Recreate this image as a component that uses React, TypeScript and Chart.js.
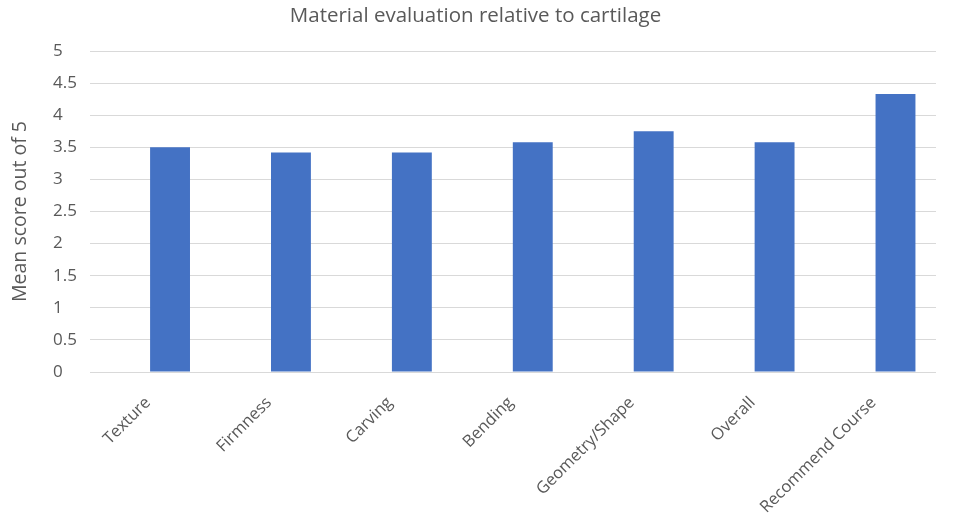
import React, { useEffect, useRef } from "react";
import { Chart, registerables } from "chart.js";

Chart.register(...registerables);

const categories = ["Texture", "Firmness", "Carving", "Bending", "Geometry/Shape", "Overall", "Recommend Course"];
const meanScores = [3.5, 3.42, 3.42, 3.58, 3.75, 3.58, 4.33];
const chartTitle = "Material evaluation relative to cartilage";
const yAxisTitle = "Mean score out of 5";

const FONT = "'Open Sans', 'Noto Sans', sans-serif";
const TEXT = "#595959";

const textPlugin = {
  id: "textPlugin",
  afterDraw(chart: any) {
    const { ctx, chartArea, width } = chart;
    ctx.save();
    ctx.fillStyle = TEXT;
    ctx.textAlign = "center";
    ctx.textBaseline = "middle";
    ctx.font = `20.5px ${FONT}`;
    ctx.fillText(chartTitle, width / 2 - 3, 16);
    ctx.font = `19.5px ${FONT}`;
    ctx.translate(20, (chartArea.top + chartArea.bottom) / 2);
    ctx.rotate(-Math.PI / 2);
    ctx.fillText(yAxisTitle, 0, 0);
    ctx.restore();
  },
};

export default function App() {
  const ref = useRef<HTMLCanvasElement | null>(null);
  useEffect(() => {
    document.body.style.margin = "0";
    const canvas = ref.current;
    if (!canvas) return;
    const chart = new Chart(canvas, {
      type: "bar",
      data: {
        datasets: [
          {
            label: "Mean score",
            data: meanScores.map((v, i) => ({ x: i, y: v })),
            backgroundColor: "#4472C4",
            categoryPercentage: 1,
            barPercentage: 0.33,
          },
        ],
      },
      options: {
        animation: false,
        responsive: false,
        maintainAspectRatio: false,
        layout: { padding: { left: 53, right: 21, top: 51, bottom: 0 } },
        plugins: {
          legend: { display: false },
          tooltip: { enabled: false },
          title: { display: false },
        },
        scales: {
          x: {
            type: "linear",
            offset: false,
            min: -0.662,
            max: 6.335,
            grid: { display: false },
            border: { display: false },
            afterBuildTicks: (scale: any) => {
              scale.ticks = categories.map((_, i) => ({ value: i }));
            },
            ticks: {
              color: TEXT,
              font: { family: FONT, size: 16.5 },
              minRotation: 45,
              maxRotation: 45,
              autoSkip: false,
              padding: 13,
              labelOffset: -22,
              callback: (v: any) => categories[Math.round(Number(v))] ?? "",
            },
            afterFit: (scale: any) => {
              scale.height = 156;
            },
          },
          y: {
            min: 0,
            max: 5,
            border: { display: false },
            grid: { color: "#d9d9d9", lineWidth: 1, drawTicks: false },
            ticks: {
              stepSize: 0.5,
              color: TEXT,
              font: { family: FONT, size: 17 },
              crossAlign: "far",
              padding: 0,
              callback: (v: any) => String(v),
            },
            afterFit: (scale: any) => {
              scale.width = 37;
            },
          },
        },
      },
      plugins: [textPlugin],
    });
    return () => chart.destroy();
  }, []);
  return (
    <div style={{ width: 957, height: 528, background: "#fff" }}>
      <canvas ref={ref} width={957} height={528} style={{ display: "block" }} />
    </div>
  );
}
